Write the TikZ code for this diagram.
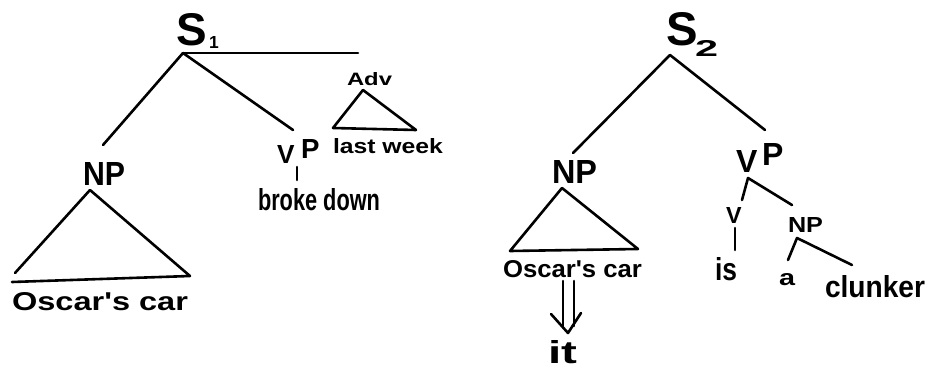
\documentclass[tikz,border=0pt]{standalone}
\usepackage{fontspec}
\setmainfont{Liberation Sans}
\newcommand{\hw}[3]{\resizebox{#1pt}{#2pt}{\bfseries #3}}
\newcommand{\hh}[2]{\resizebox{!}{#1pt}{\bfseries #2}}
\begin{document}
\begin{tikzpicture}[x=1pt,y=-1pt,
  lbl/.style={anchor=base west, inner sep=0pt, outer sep=0pt},
  branch/.style={draw, line width=2.6pt, line cap=round, line join=round}]
\useasboundingbox (0,0) rectangle (926,369);

% ---------- labels, tree 1 ----------
\node[lbl] (s1) at (176,46) {\hh{32}{S}};
\node[lbl] (s1sub) at (209,49) {\hh{12}{1}};
\node[lbl] (adv) at (347,85) {\hw{45}{13}{Adv}};
\node[lbl] (lastweek) at (333,153) {\hw{110}{15}{last week}};
\node[lbl] (np1) at (83,185) {\hw{42}{23}{NP}};
\node[lbl] (v1) at (277,163) {\hh{18}{V}};
\node[lbl] (p1) at (301,158) {\hh{19}{P}};
\node[lbl] (brokedown) at (258,210) {\hw{122}{22}{broke down}};
\node[lbl] (oscar1) at (12,310) {\hw{176}{18}{Oscar\textquotesingle s car}};

% ---------- labels, tree 2 ----------
\node[lbl] (s2) at (666,46) {\hh{33}{S}};
\node[lbl] (s2sub) at (695,57) {\hw{23}{16}{2}};
\node[lbl] (np2) at (552,183) {\hw{45}{23}{NP}};
\node[lbl] (v2) at (736,172) {\hh{22}{V}};
\node[lbl] (p2) at (762,165) {\hh{22}{P}};
\node[lbl] (oscar2) at (503,277) {\hw{139}{17}{Oscar\textquotesingle s car}};
\node[lbl] (it) at (548,363) {\hw{29}{23}{it}};
\node[lbl] (v3) at (726,223) {\hh{16}{V}};
\node[lbl] (is) at (715,280) {\hw{22}{23}{is}};
\node[lbl] (np3) at (788,232) {\hw{35}{15}{NP}};
\node[lbl] (a) at (779,285) {\hw{16}{12}{a}};
\node[lbl] (clunker) at (825,297) {\hw{100}{22}{clunker}};

% ---------- tree 1 connectors ----------
\coordinate (s1a) at (183,53);
\coordinate (s1h) at (358,53);
\coordinate (np1t) at (103,145);
\coordinate (vp1t) at (293,130);
\coordinate (adva) at (363,90);
\coordinate (advl) at (333,128);
\coordinate (advr) at (416,130);
\coordinate (np1a) at (90,190);
\coordinate (np1l) at (15,273);
\coordinate (np1r) at (190,276);
\coordinate (np1b) at (12,282);
\coordinate (v1a) at (297,167);
\coordinate (v1b) at (297,180);

\path[branch] (np1t) -- (s1a) -- (vp1t);
\path[branch] (s1a) -- (s1h);
\path[branch] (advl) -- (adva) -- (advr) -- cycle;
\path[branch] (np1l) -- (np1a) -- (np1r) -- (np1b);
\path[branch] (v1a) -- (v1b);

% ---------- tree 2 connectors ----------
\coordinate (s2a) at (670,55);
\coordinate (np2t) at (573,153);
\coordinate (vp2t) at (765,130);
\coordinate (np2a) at (562,188);
\coordinate (np2l) at (510,251);
\coordinate (np2r) at (638,249);
\coordinate (vp2a) at (748,178);
\coordinate (vp2l) at (742,200);
\coordinate (vp2r) at (792,205);
\coordinate (v3a) at (735,228);
\coordinate (v3b) at (735,250);
\coordinate (np3a) at (797,238);
\coordinate (np3l) at (788,260);
\coordinate (np3r) at (852,265);

\path[branch] (np2t) -- (s2a) -- (vp2t);
\path[branch] (np2l) -- (np2a) -- (np2r) -- cycle;
\path[branch] (vp2l) -- (vp2a) -- (vp2r);
\path[branch] (v3a) -- (v3b);
\path[branch] (np3l) -- (np3a) -- (np3r);

% ---------- double arrow: Oscar's car => it ----------
\coordinate (arrL1) at (563,281);
\coordinate (arrL2) at (563,326);
\coordinate (arrR1) at (574,281);
\coordinate (arrR2) at (574,326);
\coordinate (arrTip) at (568,333);
\coordinate (arrHl) at (551,314);
\coordinate (arrHr) at (581,313);
\path[branch] (arrL1) -- (arrL2);
\path[branch] (arrR1) -- (arrR2);
\path[branch] (arrHl) -- (arrTip) -- (arrHr);
\end{tikzpicture}
\end{document}
